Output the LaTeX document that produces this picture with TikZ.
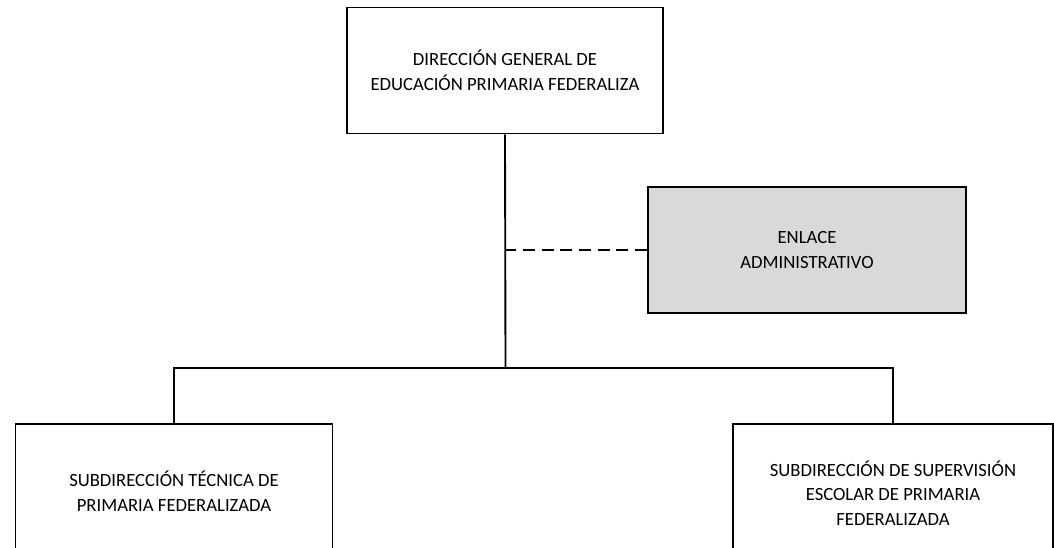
\documentclass[tikz,border=0pt]{standalone}
\usepackage{fontspec}
\setmainfont{Carlito}
\begin{document}
\begin{tikzpicture}[x=0.75pt,y=-0.75pt,
    unidad/.style={draw, line width=1.4pt, align=center, font=\fontsize{14pt}{18.5pt}\selectfont, inner sep=0pt},
    linea/.style={line width=1.4pt}]
        \definecolor{grisenlace}{HTML}{D9D9D9}
        \useasboundingbox (0,0) rectangle (1054,547);
        \clip (0,0) rectangle (1054,547);
        \node[unidad, minimum width=316*0.75pt, minimum height=126*0.75pt] (direccion) at (505,70.5) {DIRECCIÓN GENERAL DE\\EDUCACIÓN PRIMARIA FEDERALIZA};
        \node[unidad, fill=grisenlace, minimum width=318*0.75pt, minimum height=126*0.75pt] (enlace) at (807,250) {ENLACE\\ADMINISTRATIVO};
        \node[unidad, minimum width=317*0.75pt, minimum height=134*0.75pt] (tecnica) at (174,491) {SUBDIRECCIÓN TÉCNICA DE\\PRIMARIA FEDERALIZADA};
        \node[unidad, minimum width=320*0.75pt, minimum height=138*0.75pt] (supervision) at (893,493) {SUBDIRECCIÓN DE SUPERVISIÓN\\ESCOLAR DE PRIMARIA\\FEDERALIZADA};
        \coordinate (bus) at (505.5,368);
        \draw[linea] (direccion.south) -- (bus);
        \draw[linea] (tecnica.north) |- (bus) -| (supervision.north);
        \draw[linea, dash pattern=on 9pt off 5pt] (enlace.west) -- (enlace.west -| direccion.south);
            \end{tikzpicture}
\end{document}
